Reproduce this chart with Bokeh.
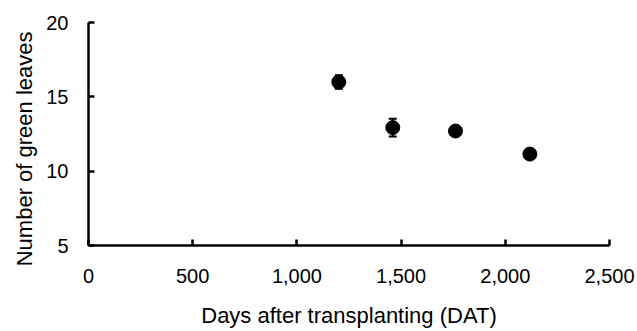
from bokeh.plotting import figure
from bokeh.models import (ColumnDataSource, Whisker, TeeHead, FixedTicker,
                          NumeralTickFormatter, Range1d, Title)
from bokeh.embed import file_html
from bokeh.resources import INLINE

days = [1201, 1460, 1761, 2118]
leaves = [16.0, 12.93, 12.7, 11.15]
errors = [0.45, 0.6, 0.2, 0.2]

x_ticks = [0, 500, 1000, 1500, 2000, 2500]
y_ticks = [5, 10, 15, 20]

x_title = "Days after transplanting (DAT)"
y_title = "Number of green leaves"

FONT = "Liberation Sans"

src = ColumnDataSource(data=dict(
    x=days, y=leaves,
    lo=[v - e for v, e in zip(leaves, errors)],
    hi=[v + e for v, e in zip(leaves, errors)],
))

p = figure(width=637, height=331, output_backend="svg", toolbar_location=None,
           x_range=Range1d(0, 2500), y_range=Range1d(5, 20),
           min_border_left=88, min_border_right=28, min_border_top=22, min_border_bottom=86)
p.outline_line_color = None
p.grid.visible = False
p.background_fill_color = "white"
p.border_fill_color = "white"

w = Whisker(source=src, base="x", lower="lo", upper="hi", dimension="height",
            line_color="black", line_width=2,
            upper_head=TeeHead(size=8, line_color="black", line_width=2),
            lower_head=TeeHead(size=8, line_color="black", line_width=2))
p.add_layout(w)
p.scatter("x", "y", source=src, size=14, color="black")

for ax in (p.xaxis[0], p.yaxis[0]):
    ax.axis_line_width = 2.5
    ax.axis_line_color = "black"
    ax.major_tick_line_width = 2.5
    ax.major_tick_line_color = "black"
    ax.major_tick_in = 6
    ax.major_tick_out = 0
    ax.minor_tick_line_color = None
    ax.major_label_text_font = FONT
    ax.major_label_text_font_size = "20px"
    ax.major_label_text_color = "black"
    ax.axis_label_text_font = FONT
    ax.axis_label_text_font_size = "22px"
    ax.axis_label_text_font_style = "normal"
    ax.axis_label_text_color = "black"

p.xaxis.ticker = FixedTicker(ticks=x_ticks)
p.xaxis.formatter = NumeralTickFormatter(format="0,0")
p.xaxis.axis_label = x_title
p.xaxis.major_label_standoff = 23
p.xaxis.axis_label_standoff = 17

p.yaxis.ticker = FixedTicker(ticks=y_ticks)
p.yaxis.major_label_standoff = 20

ytitle = Title(text=y_title, align="right", offset=9, standoff=10,
               vertical_align="top",
               text_font=FONT, text_font_size="22px", text_font_style="normal",
               text_color="black")
p.add_layout(ytitle, "left")

open("out.html", "w").write(file_html(p, INLINE))
